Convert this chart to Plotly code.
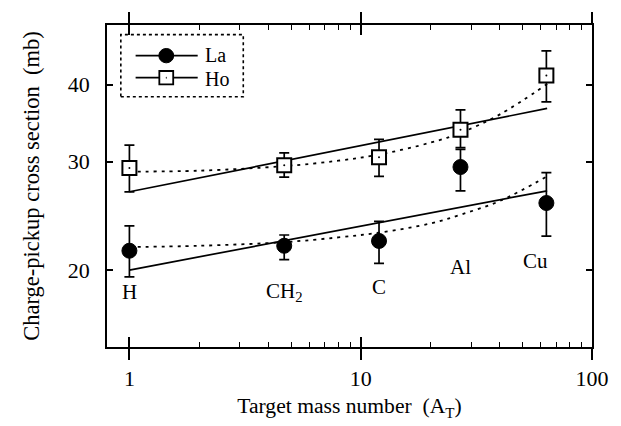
import math
import plotly.graph_objects as go

# ---- data ----
targets = ["H", "CH<sub>2</sub>", "C", "Al", "Cu"]
mass = [1.0, 4.67, 12.0, 27.0, 63.5]

la_sigma = [21.5, 21.9, 22.3, 29.4, 25.7]
la_err_plus = [2.1, 0.9, 1.7, 2.0, 3.1]
la_err_minus = [2.0, 1.1, 1.8, 2.5, 3.0]

ho_sigma = [29.3, 29.6, 30.5, 33.8, 41.4]
ho_err_plus = [2.6, 1.4, 2.1, 2.6, 4.0]
ho_err_minus = [2.5, 1.3, 2.1, 2.2, 3.9]

# solid (power-law) fit lines, end points
fit_mass = [1.0, 64.0]
la_fit_solid = [20.0, 26.9]
ho_fit_solid = [26.8, 36.6]

# dotted fit curves
curve_mass = [1.0, 2.0, 4.67, 8.0, 12.0, 20.0, 27.0, 40.0, 64.0]
la_fit_dotted = [21.8, 21.9, 22.2, 22.6, 23.0, 23.8, 24.6, 25.9, 28.4]
ho_fit_dotted = [28.9, 29.0, 29.5, 30.1, 30.8, 32.2, 33.4, 35.8, 40.1]

# target label positions
label_mass = [1.0, 4.67, 12.0, 27.0, 57.0]
label_sigma = [18.4, 18.4, 18.8, 20.2, 20.7]

series_names = ["La", "Ho"]

x_major = [1, 10, 100]
x_minor = [2, 3, 4, 5, 6, 7, 8, 9, 20, 30, 40, 50, 60, 70, 80, 90]
y_major = [20, 30, 40]

FONT = "Liberation Serif"
BLACK = "#000000"

fig = go.Figure()

# fit lines
fig.add_trace(go.Scatter(x=fit_mass, y=ho_fit_solid, mode="lines",
                         line=dict(color=BLACK, width=1.7), showlegend=False))
fig.add_trace(go.Scatter(x=fit_mass, y=la_fit_solid, mode="lines",
                         line=dict(color=BLACK, width=1.7), showlegend=False))
fig.add_trace(go.Scatter(x=curve_mass, y=ho_fit_dotted, mode="lines",
                         line=dict(color=BLACK, width=1.8, dash="3px,5px", shape="spline"),
                         showlegend=False))
fig.add_trace(go.Scatter(x=curve_mass, y=la_fit_dotted, mode="lines",
                         line=dict(color=BLACK, width=1.8, dash="3px,5px", shape="spline"),
                         showlegend=False))

# data points
fig.add_trace(go.Scatter(
    x=mass, y=la_sigma, mode="markers", name=series_names[0], showlegend=False,
    marker=dict(symbol="circle", size=15, color=BLACK, line=dict(color=BLACK, width=1)),
    error_y=dict(type="data", symmetric=False, array=la_err_plus, arrayminus=la_err_minus,
                 color=BLACK, thickness=1.7, width=5)))
fig.add_trace(go.Scatter(
    x=mass, y=ho_sigma, mode="markers", name=series_names[1], showlegend=False,
    marker=dict(symbol="square", size=14, color="white", line=dict(color=BLACK, width=2)),
    error_y=dict(type="data", symmetric=False, array=ho_err_plus, arrayminus=ho_err_minus,
                 color=BLACK, thickness=1.7, width=5)))
fig.add_trace(go.Scatter(
    x=mass, y=ho_sigma, mode="markers", showlegend=False, hoverinfo="skip",
    marker=dict(symbol="circle", size=2, color=BLACK)))

# invisible traces to carry the overlay tick axes
fig.add_trace(go.Scatter(x=[1], y=[20], xaxis="x2", mode="markers",
                         marker=dict(opacity=0), showlegend=False, hoverinfo="skip"))
fig.add_trace(go.Scatter(x=[1], y=[20], xaxis="x3", mode="markers",
                         marker=dict(opacity=0), showlegend=False, hoverinfo="skip"))

for t, m, s in zip(targets, label_mass, label_sigma):
    fig.add_annotation(x=math.log10(m), y=math.log10(s), text=t, showarrow=False,
                       font=dict(family=FONT, size=21, color=BLACK))

xr = [math.log10(0.8), 2.0]
yr = [math.log10(15.0), math.log10(50.0)]

# ---- legend drawn as a framed key (paper coordinates) ----
leg_rows_y = [0.9048, 0.8363]
shapes = [dict(type="rect", xref="paper", yref="paper",
               x0=0.0285, x1=0.281, y0=0.777, y1=0.970,
               line=dict(color=BLACK, width=1.6, dash="dot"))]
for yy in leg_rows_y:
    shapes.append(dict(type="line", xref="paper", yref="paper",
                       x0=0.059, x1=0.187, y0=yy, y1=yy,
                       line=dict(color=BLACK, width=1.7)))
# La key: filled circle
shapes.append(dict(type="circle", xref="paper", yref="paper",
                   x0=0.1069, x1=0.1375, y0=leg_rows_y[0] - 0.0223, y1=leg_rows_y[0] + 0.0223,
                   fillcolor=BLACK, line=dict(color=BLACK, width=1)))
# Ho key: open square with centre dot
shapes.append(dict(type="rect", xref="paper", yref="paper",
                   x0=0.1079, x1=0.1365, y0=leg_rows_y[1] - 0.0208, y1=leg_rows_y[1] + 0.0208,
                   fillcolor="white", line=dict(color=BLACK, width=1.8)))
shapes.append(dict(type="circle", xref="paper", yref="paper",
                   x0=0.1212, x1=0.1232, y0=leg_rows_y[1] - 0.003, y1=leg_rows_y[1] + 0.003,
                   fillcolor=BLACK, line=dict(color=BLACK, width=0)))
# key labels: anchored on either side of the row midpoint so boxes do not overlap
key_text_y = [0.8711, 0.8699]
key_text_anchor = ["bottom", "top"]
for name, yy, anc in zip(series_names, key_text_y, key_text_anchor):
    fig.add_annotation(xref="paper", yref="paper", x=0.1996, y=yy, text=name,
                       xanchor="left", yanchor=anc, showarrow=False, borderpad=0,
                       font=dict(family=FONT, size=20, color=BLACK))

fig.update_layout(
    width=621, height=426,
    margin=dict(l=107, r=23, t=18, b=72),
    paper_bgcolor="white", plot_bgcolor="white",
    font=dict(family=FONT, size=18, color=BLACK),
    xaxis=dict(type="log", range=xr, tickvals=x_major, ticktext=[str(v) for v in x_major],
               ticks="outside", ticklen=11, tickwidth=1.7, tickcolor=BLACK,
               showline=True, linecolor=BLACK, linewidth=1.8, mirror="ticks",
               showgrid=False, zeroline=False,
               title=dict(text="Target mass number  (A<sub>T</sub>)", standoff=8,
                          font=dict(size=21.6)),
               tickfont=dict(size=22)),
    xaxis2=dict(type="log", range=xr, overlaying="x", anchor="y", side="bottom",
                tickvals=x_major, ticks="inside", ticklen=10, tickwidth=1.7,
                tickcolor=BLACK, showticklabels=False, mirror="ticks", showline=False,
                showgrid=False, zeroline=False),
    xaxis3=dict(type="log", range=xr, overlaying="x", anchor="y", side="bottom",
                tickvals=x_minor, ticks="inside", ticklen=5, tickwidth=1.4,
                tickcolor=BLACK, showticklabels=False, mirror="ticks", showline=False,
                showgrid=False, zeroline=False),
    yaxis=dict(type="log", range=yr, tickvals=y_major, ticktext=[str(v) for v in y_major],
               ticks="inside", ticklen=6, tickwidth=1.7, tickcolor=BLACK,
               showline=True, linecolor=BLACK, linewidth=1.8, mirror="ticks",
               showgrid=False, zeroline=False, ticklabelstandoff=11,
               title=dict(text="Charge-pickup cross section  (mb)", standoff=22,
                          font=dict(size=22.5)),
               tickfont=dict(size=22)),
    shapes=shapes,
    showlegend=False,
)

fig.write_html("out.html")
